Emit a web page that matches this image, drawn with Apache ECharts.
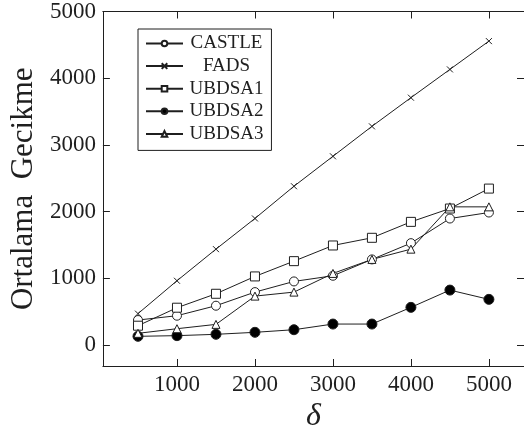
<!DOCTYPE html>
<html>
<head>
<meta charset="utf-8">
<script src="https://cdn.jsdelivr.net/npm/echarts@6/dist/echarts.min.js"></script>
<style>
  html, body { margin: 0; padding: 0; background: #fff; }
  #chart { width: 524px; height: 439px; }
</style>
</head>
<body>
<div id="chart"></div>
<script>
// δ values on the x axis
const deltas = [500, 1000, 1500, 2000, 2500, 3000, 3500, 4000, 4500, 5000];

// average delay per method
const castle = [374, 439, 589, 793, 953, 1038, 1283, 1527, 1896, 1986];
const fads   = [470, 963, 1437, 1897, 2380, 2829, 3278, 3708, 4132, 4556];
const ubdsa1 = [289, 559, 768, 1028, 1257, 1492, 1607, 1846, 2046, 2345];
const ubdsa2 = [130, 140, 160, 190, 229, 314, 314, 564, 823, 684];
const ubdsa3 = [175, 244, 309, 733, 793, 1073, 1283, 1437, 2071, 2071];

const xTicks = [1000, 2000, 3000, 4000, 5000];
const yTicks = [0, 1000, 2000, 3000, 4000, 5000];

const ink = '#1f1f1f';
const serif = '"Liberation Serif", "Times New Roman", serif';

function pairs(values) {
  return deltas.map((d, i) => [d, values[i]]);
}

function series(name, values, symbol, size, fill) {
  return {
    name: name,
    type: 'line',
    data: pairs(values),
    symbol: symbol,
    symbolSize: size,
    showAllSymbol: true,
    lineStyle: { color: ink, width: 1 },
    itemStyle: { color: fill, borderColor: ink, borderWidth: 1 },
    emphasis: { disabled: true },
    animation: false
  };
}

const frameAxis = {
  axisLine: { show: true, onZero: false, lineStyle: { color: ink, width: 1 } },
  splitLine: { show: false }
};

const plainNumber = v => String(v);

const chart = echarts.init(document.getElementById('chart'));
chart.setOption({
  backgroundColor: '#fff',
  animation: false,
  grid: { left: 99, top: 11, width: 427, bottom: 73, containLabel: false },
  legend: {
    left: 138,
    top: 29,
    orient: 'vertical',
    padding: [5, 8, 7, 7],
    itemWidth: 37,
    itemHeight: 7,
    itemGap: 3.6,
    borderColor: ink,
    borderWidth: 1,
    backgroundColor: '#fff',
    data: ['CASTLE', 'FADS', 'UBDSA1', 'UBDSA2', 'UBDSA3'],
    formatter: name => '{t|' + name + '}',
    textStyle: {
      rich: {
        t: { width: 77, height: 20, align: 'center', fontFamily: serif, fontSize: 19, color: ink }
      }
    }
  },
  xAxis: [
    Object.assign({
      type: 'value', position: 'bottom', min: 50, max: 5450,
      name: 'δ', nameLocation: 'middle', nameGap: 30,
      nameTextStyle: { fontFamily: serif, fontStyle: 'italic', fontSize: 32, color: ink },
      axisTick: { show: true, inside: true, length: 7, customValues: xTicks, lineStyle: { color: ink } },
      axisLabel: { show: true, customValues: xTicks, formatter: plainNumber, fontFamily: serif, fontSize: 23, color: ink, margin: 7 }
    }, frameAxis),
    Object.assign({
      type: 'value', position: 'top', min: 50, max: 5450,
      axisTick: { show: true, inside: true, length: 7, customValues: xTicks, lineStyle: { color: ink } },
      axisLabel: { show: false }
    }, frameAxis)
  ],
  yAxis: [
    Object.assign({
      type: 'value', position: 'left', min: -315, max: 5000,
      name: 'Ortalama  Gecikme', nameLocation: 'middle', nameGap: 63,
      nameTextStyle: { fontFamily: serif, fontSize: 31, color: ink },
      axisTick: { show: true, inside: true, length: 7, customValues: yTicks, lineStyle: { color: ink } },
      axisLabel: { show: true, customValues: yTicks, formatter: plainNumber, fontFamily: serif, fontSize: 23, color: ink, margin: 7 }
    }, frameAxis),
    Object.assign({
      type: 'value', position: 'right', min: -315, max: 5000,
      axisTick: { show: true, inside: true, length: 7, customValues: yTicks, lineStyle: { color: ink } },
      axisLabel: { show: false }
    }, frameAxis)
  ],
  series: [
    series('CASTLE', castle, 'circle', 9, '#fff'),
    series('FADS', fads, 'path://M0,0L10,10M10,0L0,10', 6, 'none'),
    series('UBDSA1', ubdsa1, 'rect', 9, '#fff'),
    series('UBDSA2', ubdsa2, 'circle', 10, '#000'),
    series('UBDSA3', ubdsa3, 'triangle', 8, '#fff')
  ]
});
</script>
</body>
</html>
